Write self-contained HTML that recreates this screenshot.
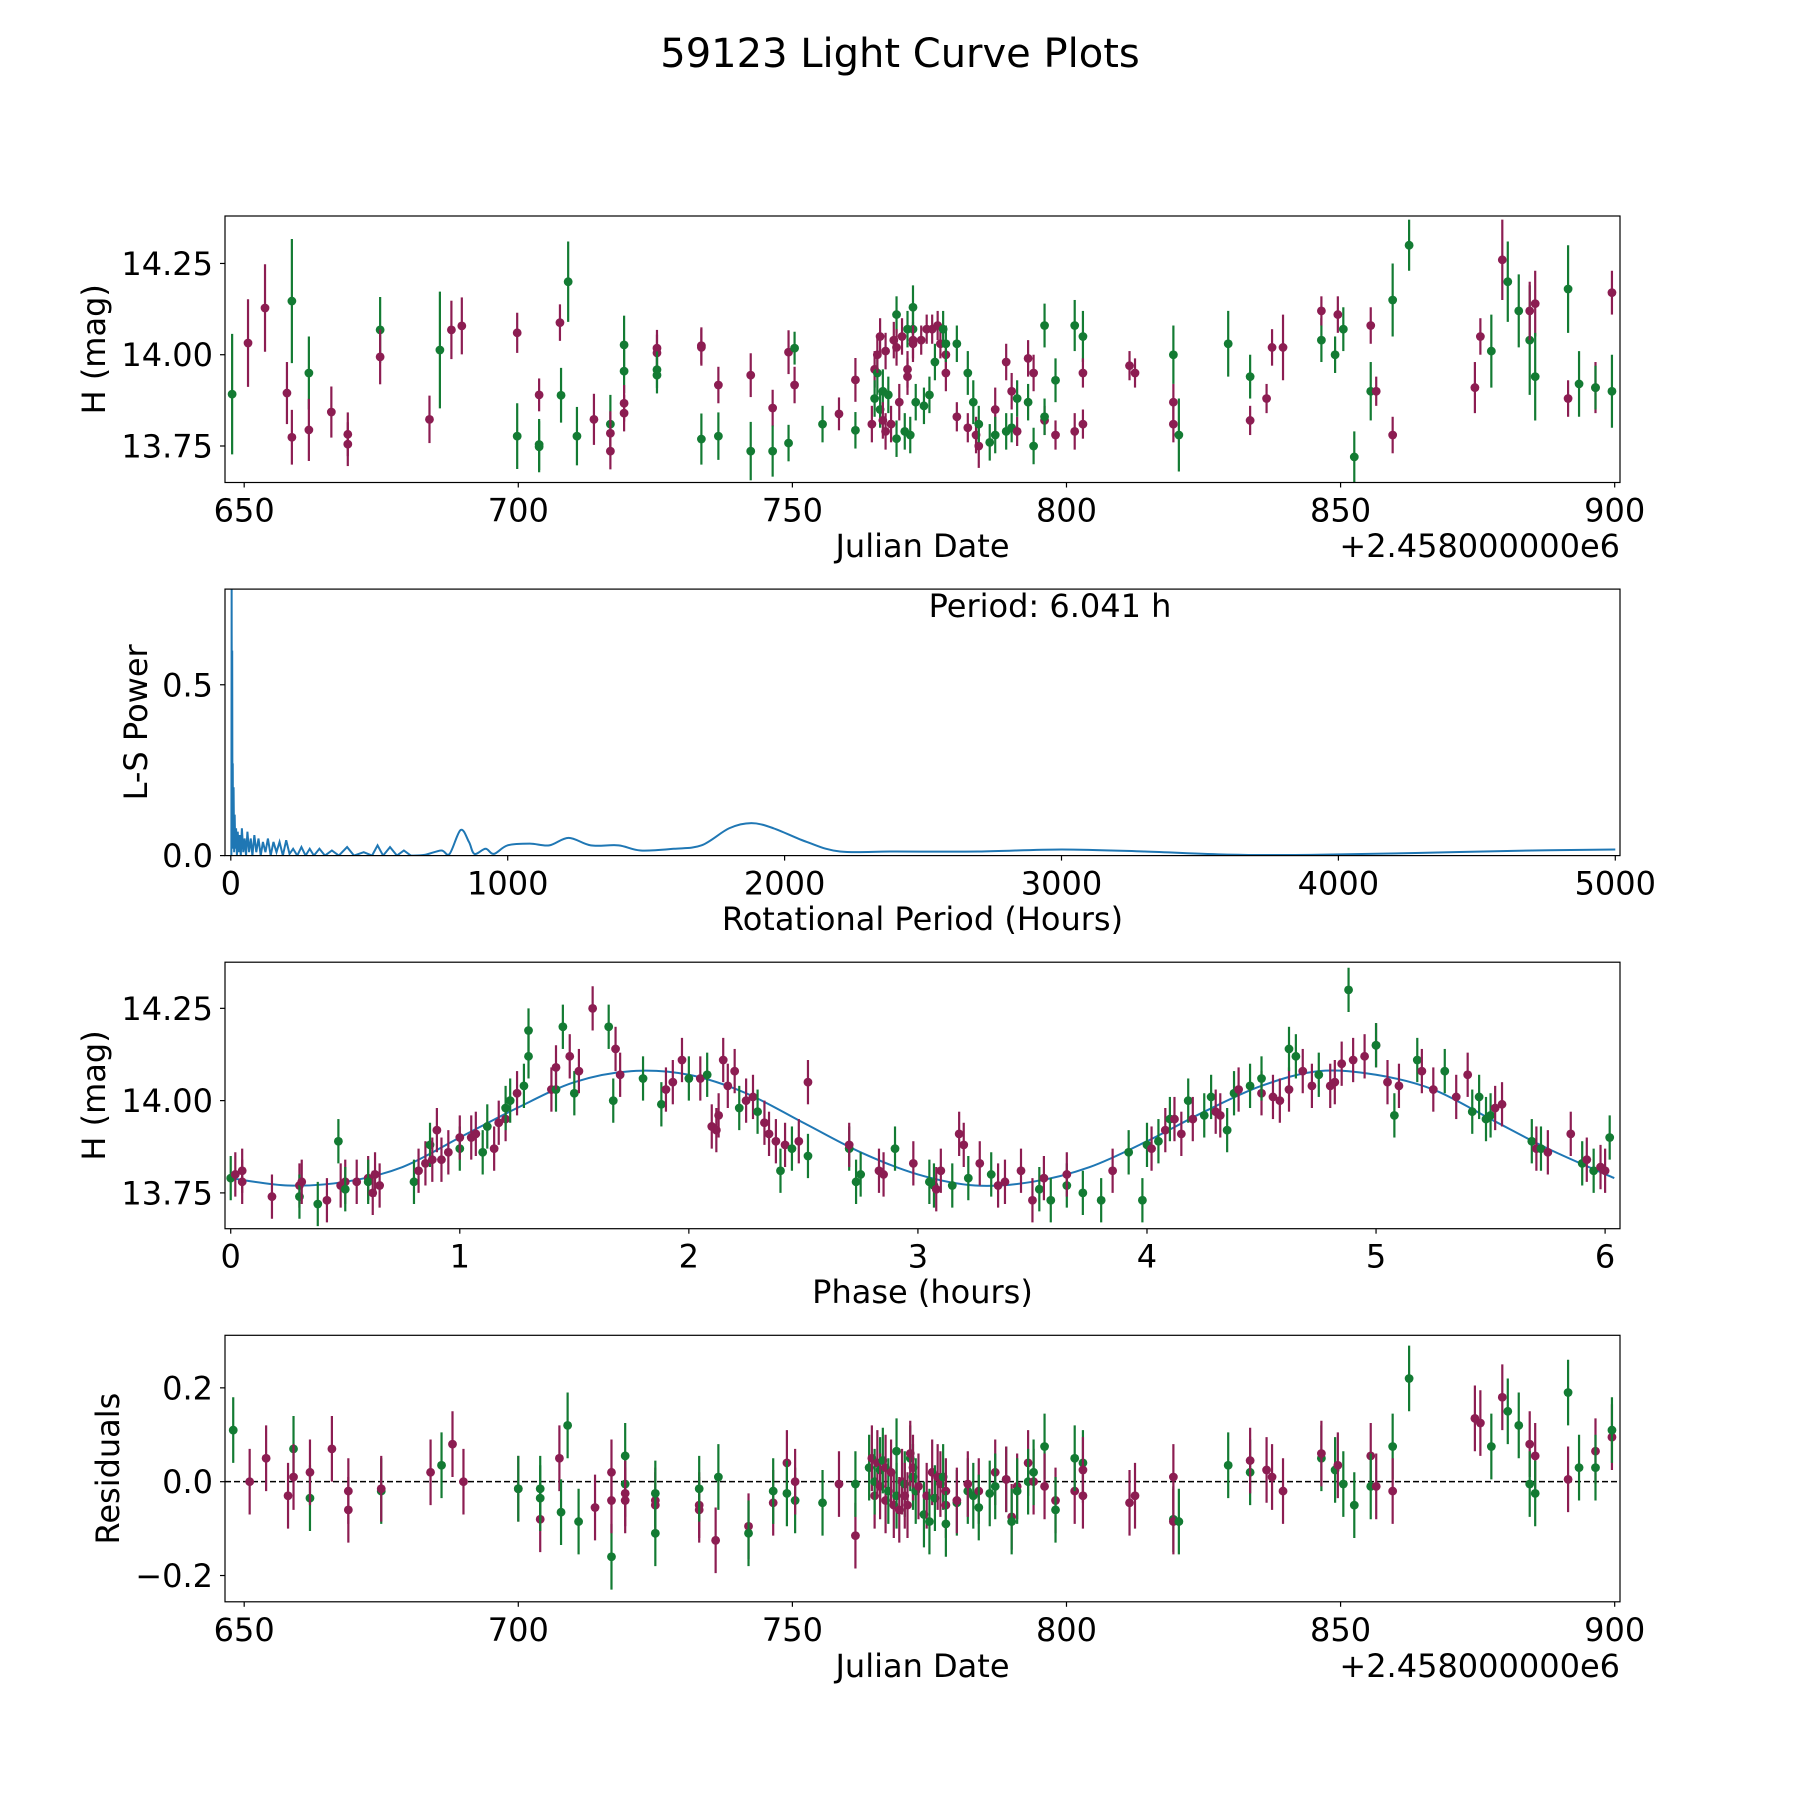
<!DOCTYPE html>
<html><head><meta charset="utf-8"><style>
html,body{margin:0;padding:0;background:#fff;}
svg{display:block;font-family:"DejaVu Sans","Liberation Sans",sans-serif;}
</style></head><body>
<svg id="fig" width="1800" height="1800" viewBox="0 0 1800 1800">
<rect width="1800" height="1800" fill="#fff"/>
<text x="900" y="67" font-size="40" text-anchor="middle">59123 Light Curve Plots</text>
</svg>
<script>
// ---------- data ----------
const topPoints = [
[647.8,13.892,0.165,'g'],[650.7,14.032,0.12,'m'],[653.8,14.128,0.12,'m'],[657.8,13.895,0.085,'m'],[658.7,14.147,0.17,'g'],[658.7,13.774,0.075,'m'],
[661.8,13.95,0.1,'g'],[661.8,13.794,0.085,'m'],[665.9,13.843,0.07,'m'],[668.9,13.782,0.06,'m'],[668.9,13.755,0.06,'m'],[674.8,14.068,0.09,'g'],
[674.8,13.994,0.075,'m'],[683.8,13.823,0.065,'m'],[685.7,14.013,0.16,'g'],[687.8,14.068,0.08,'m'],[689.7,14.079,0.078,'m'],[699.8,14.06,0.055,'m'],
[699.8,13.777,0.09,'g'],[703.8,13.89,0.045,'m'],[703.8,13.754,0.07,'g'],[703.8,13.748,0.07,'g'],[707.6,14.088,0.05,'m'],[707.8,13.889,0.075,'g'],
[709.1,14.2,0.11,'g'],[710.7,13.777,0.08,'g'],[713.8,13.823,0.07,'m'],[716.8,13.81,0.08,'g'],[716.8,13.785,0.06,'m'],[716.8,13.736,0.05,'m'],
[719.3,14.027,0.08,'g'],[719.3,13.955,0.06,'g'],[719.3,13.867,0.05,'m'],[719.3,13.84,0.05,'m'],[725.3,14.018,0.05,'m'],[725.3,14.005,0.05,'m'],
[725.3,13.959,0.05,'g'],[725.3,13.944,0.05,'g'],[733.4,14.025,0.05,'m'],[733.4,14.02,0.05,'m'],[733.4,13.769,0.07,'g'],[736.5,13.917,0.05,'m'],
[736.5,13.777,0.065,'g'],[742.4,13.944,0.06,'m'],[742.4,13.736,0.08,'g'],[746.4,13.854,0.05,'m'],[746.4,13.736,0.07,'g'],[749.3,14.007,0.06,'m'],
[749.3,13.758,0.05,'g'],[750.4,14.018,0.045,'g'],[750.4,13.917,0.05,'m'],[755.5,13.81,0.05,'g'],[758.5,13.838,0.045,'m'],[761.5,13.931,0.06,'m'],
[761.5,13.793,0.05,'g'],
[764.5,13.81,0.05,'m'],[765,13.96,0.05,'m'],[765,13.88,0.05,'g'],[765.5,13.95,0.06,'g'],[765.5,14.0,0.05,'m'],[766,14.05,0.05,'m'],[766,13.85,0.05,'g'],
[766.5,13.9,0.06,'g'],[766.5,13.82,0.05,'m'],[767,14.01,0.05,'m'],[767,13.79,0.05,'m'],[767.5,13.89,0.05,'g'],[768,13.81,0.05,'m'],[768.5,14.04,0.05,'m'],
[769,14.11,0.05,'g'],[769,13.77,0.05,'g'],[769,14.02,0.05,'m'],[769.5,13.87,0.05,'m'],[770,14.05,0.05,'m'],[770.5,13.79,0.05,'g'],[771,13.94,0.05,'m'],
[771,14.07,0.05,'g'],[771,13.96,0.05,'m'],[771.5,13.78,0.05,'g'],[772,14.13,0.06,'g'],[772,14.04,0.05,'m'],[772,14.07,0.05,'g'],[772,14.03,0.05,'m'],
[772.5,13.87,0.05,'g'],[773.5,14.04,0.04,'m'],[774,13.86,0.05,'g'],[774.5,14.07,0.04,'m'],[775,13.89,0.05,'g'],[775.5,14.07,0.04,'m'],[776,13.98,0.05,'g'],
[776.5,14.08,0.04,'m'],[777,14.03,0.04,'m'],[777.5,14.07,0.05,'g'],[778,13.95,0.05,'m'],[778,14.0,0.04,'m'],[778,14.03,0.05,'g'],[780,14.03,0.05,'g'],
[780,13.83,0.04,'m'],[782,13.95,0.06,'g'],[782,13.80,0.04,'m'],[783,13.87,0.06,'g'],[784,13.75,0.06,'m'],[783.5,13.78,0.05,'m'],[784,13.81,0.05,'g'],
[786,13.76,0.05,'g'],[787,13.85,0.06,'m'],[787,13.78,0.05,'g'],[789,13.79,0.05,'g'],[789,13.98,0.05,'m'],[790,13.90,0.05,'m'],[790,13.80,0.04,'g'],
[791,13.79,0.04,'m'],[791,13.88,0.05,'g'],[793,13.99,0.05,'m'],[793,13.87,0.05,'g'],[794,13.95,0.05,'m'],[794,13.75,0.05,'g'],[796,14.08,0.06,'g'],
[796,13.82,0.04,'m'],[796,13.83,0.05,'g'],[798,13.78,0.04,'m'],[798,13.93,0.06,'g'],[801.5,13.79,0.05,'m'],[801.5,14.08,0.07,'g'],[803,14.05,0.07,'g'],
[803,13.95,0.04,'m'],[803,13.81,0.04,'m'],[811.5,13.97,0.04,'m'],[812.5,13.95,0.04,'m'],[819.5,14.0,0.08,'g'],[819.5,13.87,0.05,'m'],[819.5,13.81,0.05,'m'],
[820.5,13.78,0.1,'g'],[829.5,14.03,0.09,'g'],[833.5,13.94,0.06,'g'],[833.5,13.82,0.04,'m'],[836.5,13.88,0.04,'m'],[837.5,14.02,0.05,'m'],[839.5,14.02,0.09,'m'],
[846.5,14.04,0.06,'g'],[846.5,14.12,0.04,'m'],[849,14.0,0.05,'g'],[849.5,14.11,0.05,'m'],[850.5,14.07,0.06,'g'],[852.5,13.72,0.07,'g'],[855.5,14.08,0.05,'m'],
[855.5,13.90,0.08,'g'],[856.5,13.90,0.04,'m'],[859.5,14.15,0.1,'g'],[859.5,13.78,0.05,'m'],[862.5,14.30,0.07,'g'],[874.5,13.91,0.07,'m'],[875.5,14.05,0.05,'m'],
[877.5,14.01,0.1,'g'],[879.5,14.26,0.11,'m'],[880.5,14.20,0.11,'g'],[882.5,14.12,0.1,'g'],[884.5,14.04,0.15,'g'],[884.5,14.12,0.08,'m'],[885.5,14.14,0.09,'m'],
[885.5,13.94,0.12,'g'],[891.5,14.18,0.12,'g'],[891.5,13.88,0.05,'m'],[893.5,13.92,0.09,'g'],[896.5,13.91,0.07,'m'],[896.5,13.91,0.06,'g'],[899.5,14.17,0.06,'m'],[899.5,13.90,0.1,'g']
];
const lsPeriods = [2,3,4,5,6,7,8,10,12,14,16,19,22,25,28,32,36,40,45,50,55,60,66,72,78,85,92,100,108,116,125,134,144,154,165,176,188,200,212,225,240,255,270,285,300,320,340,365,390,420,445,480,510,530,550,575,600,625,650];
const lsPowers = [0.0,0.78,0.05,0.6,0.02,0.27,0.03,0.2,0.01,0.12,0.02,0.08,0.0,0.07,0.01,0.06,0.0,0.08,0.01,0.05,0.0,0.07,0.01,0.05,0.0,0.06,0.01,0.05,0.0,0.04,0.01,0.05,0.0,0.04,0.01,0.04,0.0,0.045,0.005,0.02,0.0,0.025,0.0,0.02,0.0,0.02,0.0,0.015,0.0,0.025,0.0,0.01,0.0,0.03,0.0,0.025,0.0,0.015,0.0];
const lsSmoothPeriods = [650,700,760,790,830,860,880,920,950,1000,1080,1150,1220,1300,1400,1480,1600,1700,1800,1880,1960,2080,2200,2400,2700,3000,3300,3600,3900,4300,4700,5000];
const lsSmoothPowers = [0.0,0.002,0.015,0.005,0.075,0.04,0.005,0.02,0.005,0.03,0.035,0.03,0.052,0.03,0.03,0.015,0.02,0.03,0.08,0.095,0.08,0.04,0.012,0.012,0.012,0.018,0.012,0.003,0.002,0.008,0.015,0.018];
const modelPhase = [0,0.25,0.5,0.75,1.0,1.25,1.5,1.75,2.0,2.25,2.5,2.75,3.0,3.25,3.5,3.75,4.0,4.25,4.5,4.75,5.0,5.25,5.5,5.75,6.04];
const modelMag = [13.79,13.77,13.78,13.82,13.9,13.98,14.05,14.08,14.07,14.02,13.94,13.86,13.8,13.77,13.78,13.82,13.89,13.97,14.04,14.08,14.07,14.03,13.95,13.87,13.79];
const phasePoints = [
[0.0,13.79,'g'],[0.02,13.80,'m'],[0.05,13.81,'m'],[0.05,13.78,'m'],[0.18,13.74,'m'],[0.3,13.77,'m'],[0.3,13.74,'g'],[0.31,13.78,'m'],[0.38,13.72,'g'],[0.42,13.73,'m'],
[0.47,13.89,'g'],[0.48,13.77,'m'],[0.5,13.78,'m'],[0.5,13.76,'g'],[0.55,13.78,'m'],[0.6,13.79,'m'],[0.6,13.78,'g'],[0.62,13.75,'m'],[0.65,13.77,'m'],[0.63,13.8,'m'],
[0.8,13.78,'g'],[0.82,13.81,'m'],[0.85,13.83,'m'],[0.87,13.88,'g'],[0.88,13.84,'m'],[0.9,13.92,'m'],[0.92,13.84,'m'],[0.95,13.86,'m'],[1.0,13.87,'g'],[1.05,13.90,'m'],
[1.0,13.90,'m'],[1.07,13.91,'m'],[1.1,13.86,'g'],[1.15,13.87,'m'],[1.12,13.93,'g'],[1.17,13.94,'m'],[1.2,13.95,'m'],[1.2,13.98,'g'],[1.22,14.0,'g'],[1.25,14.02,'m'],
[1.28,14.04,'g'],[1.3,14.12,'g'],[1.3,14.19,'g'],[1.4,14.03,'m'],[1.42,14.03,'g'],[1.42,14.09,'m'],[1.45,14.20,'g'],[1.48,14.12,'m'],[1.5,14.02,'g'],[1.52,14.08,'m'],
[1.58,14.25,'m'],[1.65,14.20,'g'],[1.67,14.0,'g'],[1.68,14.14,'m'],[1.7,14.07,'m'],[1.8,14.06,'g'],[1.88,13.99,'g'],[1.9,14.03,'m'],[1.93,14.05,'m'],[1.97,14.11,'m'],
[2.0,14.06,'g'],[2.05,14.06,'m'],[2.08,14.07,'g'],[2.1,13.93,'m'],[2.12,13.92,'m'],[2.13,13.96,'m'],[2.15,14.11,'m'],[2.17,14.04,'m'],[2.2,14.08,'m'],[2.22,13.98,'g'],
[2.25,14.0,'m'],[2.28,14.01,'m'],[2.3,13.97,'g'],[2.33,13.94,'m'],[2.35,13.91,'m'],[2.38,13.89,'m'],[2.4,13.81,'g'],[2.42,13.88,'m'],[2.45,13.87,'g'],[2.48,13.89,'m'],
[2.52,13.85,'g'],[2.52,14.05,'m'],[2.7,13.87,'g'],[2.7,13.88,'m'],[2.73,13.78,'g'],[2.75,13.8,'g'],[2.83,13.81,'m'],[2.85,13.80,'m'],[2.9,13.87,'g'],[2.98,13.83,'m'],
[3.05,13.78,'g'],[3.07,13.77,'g'],[3.08,13.76,'m'],[3.1,13.81,'m'],[3.15,13.77,'g'],[3.18,13.91,'m'],[3.2,13.88,'m'],[3.22,13.79,'g'],[3.27,13.83,'m'],[3.32,13.80,'g'],
[3.35,13.77,'m'],[3.38,13.78,'m'],[3.45,13.81,'m'],[3.5,13.73,'m'],[3.53,13.76,'g'],[3.55,13.79,'m'],[3.58,13.73,'g'],[3.65,13.77,'g'],[3.65,13.80,'m'],[3.72,13.75,'g'],
[3.8,13.73,'g'],[3.85,13.81,'m'],[3.92,13.86,'g'],[3.98,13.73,'g'],[4.0,13.88,'g'],[4.02,13.87,'m'],[4.05,13.89,'g'],[4.08,13.92,'m'],[4.1,13.95,'g'],[4.12,13.95,'m'],
[4.15,13.91,'m'],[4.18,14.0,'g'],[4.2,13.95,'m'],[4.25,13.96,'g'],[4.28,14.01,'g'],[4.3,13.97,'m'],[4.32,13.96,'m'],[4.35,13.92,'g'],[4.38,14.02,'g'],[4.4,14.03,'m'],
[4.45,14.04,'g'],[4.5,14.02,'m'],[4.5,14.06,'g'],[4.55,14.01,'m'],[4.58,14.0,'m'],[4.62,14.03,'m'],[4.62,14.14,'g'],[4.65,14.12,'g'],[4.68,14.08,'m'],[4.72,14.04,'m'],
[4.75,14.07,'g'],[4.8,14.04,'m'],[4.82,14.05,'m'],[4.85,14.10,'m'],[4.88,14.30,'g'],[4.9,14.11,'m'],[4.95,14.12,'m'],[5.0,14.15,'m'],[5.0,14.15,'g'],[5.05,14.05,'m'],
[5.08,13.96,'g'],[5.1,14.04,'m'],[5.18,14.11,'g'],[5.2,14.08,'m'],[5.25,14.03,'m'],[5.3,14.08,'g'],[5.35,14.01,'m'],[5.4,14.07,'m'],[5.42,13.97,'g'],[5.45,14.01,'g'],
[5.48,13.95,'g'],[5.5,13.96,'g'],[5.52,13.98,'m'],[5.55,13.99,'m'],[5.68,13.89,'g'],[5.7,13.87,'m'],[5.72,13.87,'g'],[5.75,13.86,'m'],[5.85,13.91,'m'],[5.9,13.83,'g'],
[5.92,13.84,'m'],[5.95,13.81,'g'],[5.98,13.82,'m'],[6.0,13.81,'m'],[6.02,13.90,'g']
];
const residPoints = [
[648,0.11,'g'],[651,0.0,'m'],[654,0.05,'m'],[658,-0.03,'m'],[659,0.07,'g'],[659,0.01,'m'],[662,-0.035,'g'],[662,0.02,'m'],[666,0.07,'m'],[669,-0.06,'m'],[669,-0.02,'m'],
[675,-0.02,'g'],[675,-0.015,'m'],[684,0.02,'m'],[686,0.035,'g'],[688,0.08,'m'],[690,0.0,'m'],[700,-0.015,'m'],[700,-0.015,'g'],[704,-0.08,'m'],[704,-0.035,'g'],
[704,-0.015,'g'],[707.5,0.05,'m'],[707.8,-0.065,'g'],[709,0.12,'g'],[711,-0.085,'g'],[714,-0.055,'m'],[717,-0.16,'g'],[717,0.02,'m'],[717,-0.04,'m'],[719.5,0.055,'g'],
[719.5,-0.005,'g'],[719.5,-0.04,'m'],[719.5,-0.025,'m'],[725,-0.04,'m'],[725,-0.05,'m'],[725,-0.11,'g'],[725,-0.025,'g'],[733,-0.05,'m'],[733,-0.06,'m'],[733,-0.015,'g'],
[736,-0.125,'m'],[736.5,0.01,'g'],[742,-0.095,'m'],[742,-0.11,'g'],[746.5,-0.045,'m'],[746.5,-0.02,'g'],[749,0.04,'m'],[749,-0.025,'g'],[750.5,-0.04,'g'],[750.5,0.0,'m'],
[755.5,-0.045,'g'],[758.5,-0.005,'m'],[761.5,-0.115,'m'],[761.5,-0.005,'g'],
[764,0.03,'g'],[764.5,0.05,'m'],[765,-0.03,'m'],[765,0.0,'g'],[765.5,0.04,'m'],[766,0.025,'g'],[766,-0.01,'m'],[766.5,0.045,'g'],[767,0.03,'m'],[767,-0.04,'m'],
[767.5,-0.02,'g'],[768,0.02,'m'],[768.5,-0.05,'m'],[769,0.065,'g'],[769,-0.03,'g'],[769.5,-0.06,'m'],[770,0.0,'m'],[770.5,-0.005,'g'],[770.5,-0.03,'m'],[771,-0.05,'m'],
[771.5,0.05,'g'],[771.5,0.06,'m'],[772,0.01,'g'],[772,0.03,'m'],[772.5,-0.02,'g'],[773,-0.01,'m'],[774,-0.07,'g'],[774.5,-0.03,'m'],[775,-0.085,'g'],[775.5,0.02,'m'],
[776,-0.035,'g'],[776.5,0.01,'m'],[777,-0.005,'m'],[777.5,0.01,'g'],[778,-0.05,'m'],[778,-0.02,'m'],[778,-0.09,'g'],[780,-0.045,'g'],[780,-0.04,'m'],[782,-0.02,'g'],
[782,-0.005,'m'],[783,-0.03,'g'],[784,-0.02,'m'],[784,-0.055,'g'],[786,-0.025,'g'],[787,0.02,'m'],[787,-0.01,'g'],[789,0.005,'g'],[789,0.005,'m'],[790,-0.075,'m'],
[790,-0.085,'g'],[791,-0.01,'m'],[791,-0.02,'g'],[793,0.04,'m'],[793,0.0,'g'],[794,0.0,'m'],[794,0.02,'g'],[796,0.075,'g'],[796,-0.01,'m'],[798,-0.04,'m'],[798,-0.06,'g'],
[801.5,-0.02,'m'],[801.5,0.05,'g'],[803,0.04,'g'],[803,0.025,'m'],[803,-0.03,'m'],
[811.5,-0.045,'m'],[812.5,-0.03,'m'],[819.5,-0.08,'g'],[819.5,0.01,'m'],[819.5,-0.085,'m'],[820.5,-0.085,'g'],[829.5,0.035,'g'],[833.5,0.02,'g'],[833.5,0.045,'m'],
[836.5,0.025,'m'],[837.5,0.01,'m'],[839.5,-0.02,'m'],[846.5,0.05,'g'],[846.5,0.06,'m'],[849,0.025,'g'],[849.5,0.035,'m'],[850.5,-0.005,'g'],[852.5,-0.05,'g'],
[855.5,0.055,'m'],[855.5,-0.01,'g'],[856.5,-0.01,'m'],[859.5,0.075,'g'],[859.5,-0.02,'m'],[862.5,0.22,'g'],[874.5,0.135,'m'],[875.5,0.125,'m'],[877.5,0.075,'g'],
[879.5,0.18,'m'],[880.5,0.15,'g'],[882.5,0.12,'g'],[884.5,0.08,'m'],[884.5,-0.005,'g'],[885.5,0.055,'m'],[885.5,-0.025,'g'],[891.5,0.19,'g'],[891.5,0.005,'m'],
[893.5,0.03,'g'],[896.5,0.065,'m'],[896.5,0.03,'g'],[899.5,0.095,'m'],[899.5,0.11,'g']
];
const dateTicks = [650,700,750,800,850,900];
const magTicks = [13.75,14.00,14.25];
const magTickLabels = ['13.75','14.00','14.25'];
const lsXTicks = [0,1000,2000,3000,4000,5000];
const lsYTicks = [0,0.5];
const lsYTickLabels = ['0.0','0.5'];
const phaseTicks = [0,1,2,3,4,5,6];
const residTicks = [-0.2,0,0.2];
const residTickLabels = ['\u22120.2','0.0','0.2'];

// ---------- drawing ----------
const NS='http://www.w3.org/2000/svg';
const svg=document.getElementById('fig');
const COL={m:'#8c1d52',g:'#137b33'};
const FS=32;
function el(tag,attrs,parent){const e=document.createElementNS(NS,tag);for(const k in attrs)e.setAttribute(k,attrs[k]);(parent||svg).appendChild(e);return e;}
function makeAxes(name,T,B,xmin,xmax,ymin,ymax){
  const L=225,R=1620;
  const g=el('g',{});
  
  
  const cp=el('clipPath',{id:'clip-'+name},g);
  el('rect',{x:L,y:T,width:R-L,height:B-T},cp);
  const plot=el('g',{'clip-path':'url(#clip-'+name+')'},g);
  return {g,plot,L,R,T,B,x:v=>L+(v-xmin)/(xmax-xmin)*(R-L),y:v=>B-(v-ymin)/(ymax-ymin)*(B-T)};
}
function frame(a,xt,xl,yt,yl,xlabel,ylabel,ylabelX,xlabelY){
  const r=el('rect',{x:a.L,y:a.T,width:a.R-a.L,height:a.B-a.T,fill:'none',stroke:'#000','stroke-width':1.2},a.g);
  
  
  xt.forEach((v,i)=>{const X=a.x(v);
    el('line',{x1:X,x2:X,y1:a.B,y2:a.B+5,stroke:'#000','stroke-width':1.2},a.g);
    const t=el('text',{x:X,y:a.B+39,'font-size':FS,'text-anchor':'middle'},a.g);t.textContent=xl[i];
    
    });
  yt.forEach((v,i)=>{const Y=a.y(v);
    el('line',{x1:a.L-5,x2:a.L,y1:Y,y2:Y,stroke:'#000','stroke-width':1.2},a.g);
    const t=el('text',{x:a.L-12,y:Y+11.5,'font-size':FS,'text-anchor':'end'},a.g);t.textContent=yl[i];
    
    });
  const xlab=el('text',{x:(a.L+a.R)/2,y:xlabelY,'font-size':FS,'text-anchor':'middle'},a.g);xlab.textContent=xlabel;
  
  
  const cy=(a.T+a.B)/2;
  const ylab=el('text',{x:ylabelX,y:cy,'font-size':FS,'text-anchor':'middle',transform:'rotate(-90 '+ylabelX+' '+cy+')'},a.g);ylab.textContent=ylabel;
  
  
}
function errPoint(a,x,y,e,c){
  const X=a.x(x),Y=a.y(y);
  const ln=el('line',{x1:X,x2:X,y1:a.y(y-e),y2:a.y(y+e),stroke:COL[c],'stroke-width':2.2},a.plot);
  
  
  const d=el('circle',{cx:X,cy:Y,r:4.4,fill:COL[c]},a.plot);
  
  
}
function smoothPath(pts){
  let d='M'+pts[0][0]+','+pts[0][1];
  for(let i=0;i<pts.length-1;i++){
    const p0=pts[Math.max(0,i-1)],p1=pts[i],p2=pts[i+1],p3=pts[Math.min(pts.length-1,i+2)];
    const c1=[p1[0]+(p2[0]-p0[0])/6,p1[1]+(p2[1]-p0[1])/6],c2=[p2[0]-(p3[0]-p1[0])/6,p2[1]-(p3[1]-p1[1])/6];
    d+=' C'+c1[0]+','+c1[1]+' '+c2[0]+','+c2[1]+' '+p2[0]+','+p2[1];
  }
  return d;
}
const dl=dateTicks.map(String);
// Panel 1
const a1=makeAxes('light-curve-panel',216,482.5,646.5,900.97,13.65,14.38);
topPoints.forEach(p=>errPoint(a1,p[0],p[1],p[2],p[3]));
frame(a1,dateTicks,dl,magTicks,magTickLabels,'Julian Date','H (mag)',105,557);
let off=el('text',{x:1620,y:557,'font-size':FS,'text-anchor':'end'},a1.g);off.textContent='+2.458000000e6';


// Panel 2
const a2=makeAxes('periodogram-panel',589.1,855.6,-21,5017,0,0.78);
const noisy=lsPeriods.map((p,i)=>[a2.x(p),a2.y(lsPowers[i])]);
const pl=el('polyline',{points:noisy.map(q=>q.join(',')).join(' '),fill:'none',stroke:'#1f77b4','stroke-width':2},a2.plot);


const sm=lsSmoothPeriods.map((p,i)=>[a2.x(p),a2.y(lsSmoothPowers[i])]);
const sp=el('path',{d:smoothPath(sm),fill:'none',stroke:'#1f77b4','stroke-width':2},a2.plot);


frame(a2,lsXTicks,lsXTicks.map(String),lsYTicks,lsYTickLabels,'Rotational Period (Hours)','L-S Power',147,930);
let pt=el('text',{x:1050,y:617,'font-size':FS,'text-anchor':'middle'},a2.g);pt.textContent='Period: 6.041 h';


// Panel 3
const a3=makeAxes('phase-panel',962.2,1228.7,-0.025,6.065,13.653,14.375);
const mp=el('path',{d:smoothPath(modelPhase.map((p,i)=>[a3.x(p),a3.y(modelMag[i])])),fill:'none',stroke:'#1f77b4','stroke-width':2},a3.plot);


phasePoints.forEach(p=>errPoint(a3,p[0],p[1],0.06,p[2]));
frame(a3,phaseTicks,phaseTicks.map(String),magTicks,magTickLabels,'Phase (hours)','H (mag)',105,1303);
// Panel 4
const a4=makeAxes('residuals-panel',1335.3,1601.8,646.5,900.97,-0.256,0.312);
const zl=el('line',{x1:a4.L,x2:a4.R,y1:a4.y(0),y2:a4.y(0),stroke:'#000','stroke-width':1.5,'stroke-dasharray':'6,3'},a4.plot);


residPoints.forEach(p=>errPoint(a4,p[0],p[1],0.07,p[2]));
frame(a4,dateTicks,dl,residTicks,residTickLabels,'Julian Date','Residuals',119,1677);
off=el('text',{x:1620,y:1677,'font-size':FS,'text-anchor':'end'},a4.g);off.textContent='+2.458000000e6';


</script>
</body></html>
